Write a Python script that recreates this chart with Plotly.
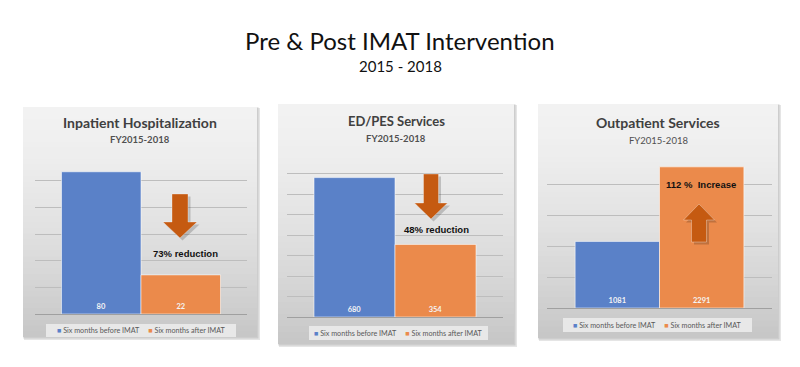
import plotly.graph_objects as go

# ---------------- data ----------------
panel_titles = ["Inpatient Hospitalization", "ED/PES Services", "Outpatient Services"]
panel_subtitle = "FY2015-2018"
series_names = ["Six months before IMAT", "Six months after IMAT"]
category = ["FY2015-2018"]
before_vals = [80, 680, 1081]
after_vals = [22, 354, 2291]
change_labels = ["73% reduction", "48% reduction", "112 %  Increase"]
main_title = "Pre & Post IMAT Intervention"
main_subtitle = "2015 - 2018"

# ---------------- style / layout ----------------
W, H = 800, 367
BLUE = "#5a81c8"
ORANGE = "#eb8a4b"
ARROW = "#c55a11"
y_max = [90, 800, 2500]
y_dtick = [15, 100, 500]

def fx(x):
    return x / W

def fy(y):
    return 1 - y / H

# plot areas in pixels (x0, x1, y_top, y_bottom)
plot_px = [(35, 247, 154, 314), (287, 503, 153, 317), (547, 772, 154, 308)]
panel_px = [(23, 257, 107, 337), (278, 514, 104, 344), (538, 778, 104, 338)]
title_y = [122, 121, 122]
title_size = [14, 13, 14]
sub_y = [139.5, 138.5, 140.5]
sub_bold = [True, True, False]
legend_px = [(46, 236, 324, 337), (309, 488, 326, 340), (563, 752, 318, 332)]
arrows = [  # cx, shaft_top, head_base, tip, shaft half width, head half width, direction
    (180, 194, 222, 238, 8, 17, "down"),
    (431, 174, 203, 219, 7.5, 16.5, "down"),
    (699, 242, 220, 204, 7.5, 15.5, "up"),
]
label_pos = [(185, 253), (436, 229), (701, 184)]

fig = go.Figure()
shapes = []
annotations = []

# panel backgrounds (shadow + vertical gradient strips)
top_c, bot_c = 242, 198
for (x0, x1, y0, y1) in panel_px:
    shapes.append(dict(type="rect", xref="paper", yref="paper", layer="below",
                       x0=fx(x0 + 1), x1=fx(x1 + 3), y0=fy(y0 + 1), y1=fy(y1 + 3),
                       fillcolor="rgba(0,0,0,0.10)", line=dict(width=0)))
    shapes.append(dict(type="rect", xref="paper", yref="paper", layer="below",
                       x0=fx(x0), x1=fx(x1 + 1.5), y0=fy(y0), y1=fy(y1 + 1.5),
                       fillcolor="rgba(0,0,0,0.10)", line=dict(width=0)))
    n = 40
    hgt = (y1 - y0) / n
    for i in range(n):
        t = (i + 0.5) / n
        c = int(round(top_c - (top_c - bot_c) * t ** 1.5))
        shapes.append(dict(type="rect", xref="paper", yref="paper", layer="below",
                           x0=fx(x0), x1=fx(x1),
                           y0=fy(y0 + i * hgt), y1=fy(min(y1, y0 + (i + 1) * hgt + 0.8)),
                           fillcolor=f"rgb({c},{c},{c})", line=dict(width=0)))

# bars
for p in range(3):
    ax = "" if p == 0 else str(p + 1)
    for s, (vals, col) in enumerate([(before_vals, BLUE), (after_vals, ORANGE)]):
        fig.add_trace(go.Bar(
            x=category, y=[vals[p]], name=series_names[s],
            marker=dict(color=col, line=dict(color="rgba(255,255,255,0.55)", width=1)),
            texttemplate="%{y}", textposition="inside", insidetextanchor="start",
            textangle=0,
            textfont=dict(family="Lato", size=7.5, color="#f4f4f4", weight="bold"),
            xaxis="x" + ax, yaxis="y" + ax, showlegend=False,
            hoverinfo="name+y",
        ))
    x0, x1, yt, yb = plot_px[p]
    fig.layout["xaxis" + ax] = dict(domain=[fx(x0), fx(x1)], showticklabels=False,
                                    showgrid=False, zeroline=False, showline=False,
                                    anchor="y" + ax, fixedrange=True)
    fig.layout["yaxis" + ax] = dict(domain=[fy(yb), fy(yt)], range=[0, y_max[p]],
                                    dtick=y_dtick[p], showticklabels=False,
                                    showgrid=True, gridcolor="#bdbdbd", gridwidth=1,
                                    zeroline=True, zerolinecolor="#a0a0a0", zerolinewidth=1,
                                    showline=False, anchor="x" + ax, fixedrange=True)

    # panel titles
    annotations.append(dict(text=f"<b>{panel_titles[p]}</b>", xref="paper", yref="paper",
                            x=fx((panel_px[p][0] + panel_px[p][1]) / 2), y=fy(title_y[p]),
                            showarrow=False, xanchor="center", yanchor="middle",
                            font=dict(family="Lato", size=title_size[p], color="#404040")))
    st = f"<b>{panel_subtitle}</b>" if sub_bold[p] else panel_subtitle
    annotations.append(dict(text=st, xref="paper", yref="paper",
                            x=fx((panel_px[p][0] + panel_px[p][1]) / 2), y=fy(sub_y[p]),
                            showarrow=False, xanchor="center", yanchor="middle",
                            font=dict(family="Lato", size=9.5, color="#505050")))

    # custom legend box
    lx0, lx1, ly0, ly1 = legend_px[p]
    shapes.append(dict(type="rect", xref="paper", yref="paper", layer="below",
                       x0=fx(lx0), x1=fx(lx1), y0=fy(ly1), y1=fy(ly0),
                       fillcolor="rgba(235,235,235,0.9)", line=dict(width=0)))
    leg_text = (f"<span style='color:{BLUE}'>■</span> {series_names[0]}"
                f"     <span style='color:{ORANGE}'>■</span> {series_names[1]}")
    annotations.append(dict(text=leg_text, xref="paper", yref="paper",
                            x=fx((lx0 + lx1) / 2), y=fy((ly0 + ly1) / 2),
                            showarrow=False, xanchor="center", yanchor="middle",
                            font=dict(family="Lato", size=7.2, color="#595959")))

    # arrow
    cx, a, b, tip, sw, hw, d = arrows[p]
    def arrow_path(off):
        pts = [(cx - sw, a), (cx + sw, a), (cx + sw, b), (cx + hw, b), (cx, tip),
               (cx - hw, b), (cx - sw, b)]
        return "M " + " L ".join(f"{fx(x + off)},{fy(y + off)}" for x, y in pts) + " Z"
    shapes.append(dict(type="path", xref="paper", yref="paper", path=arrow_path(2.5),
                       fillcolor="rgba(0,0,0,0.18)", line=dict(width=0), layer="above"))
    shapes.append(dict(type="path", xref="paper", yref="paper", path=arrow_path(0),
                       fillcolor=ARROW, line=dict(color="rgba(255,255,255,0.4)", width=0.8),
                       layer="above"))
    annotations.append(dict(text=f"<b>{change_labels[p]}</b>", xref="paper", yref="paper",
                            x=fx(label_pos[p][0]), y=fy(label_pos[p][1]),
                            showarrow=False, xanchor="center", yanchor="middle",
                            font=dict(family="Liberation Sans", size=9.5, color="#111111")))

# main titles
annotations.append(dict(text=main_title, xref="paper", yref="paper", x=0.5, y=fy(40),
                        showarrow=False, xanchor="center", yanchor="middle",
                        font=dict(family="Lato", size=24, color="#111111")))
annotations.append(dict(text=main_subtitle, xref="paper", yref="paper", x=0.5, y=fy(66),
                        showarrow=False, xanchor="center", yanchor="middle",
                        font=dict(family="Lato", size=15, color="#111111")))

fig.update_layout(
    width=W, height=H, margin=dict(l=0, r=0, t=0, b=0),
    paper_bgcolor="white", plot_bgcolor="rgba(0,0,0,0)",
    barmode="group", bargap=0.25, bargroupgap=0,
    shapes=shapes, annotations=annotations, showlegend=False,
    font=dict(family="Lato"),
)

fig.write_html("out.html", config={"displayModeBar": False},
               post_script="document.body.style.margin='0';document.body.style.padding='0';")
